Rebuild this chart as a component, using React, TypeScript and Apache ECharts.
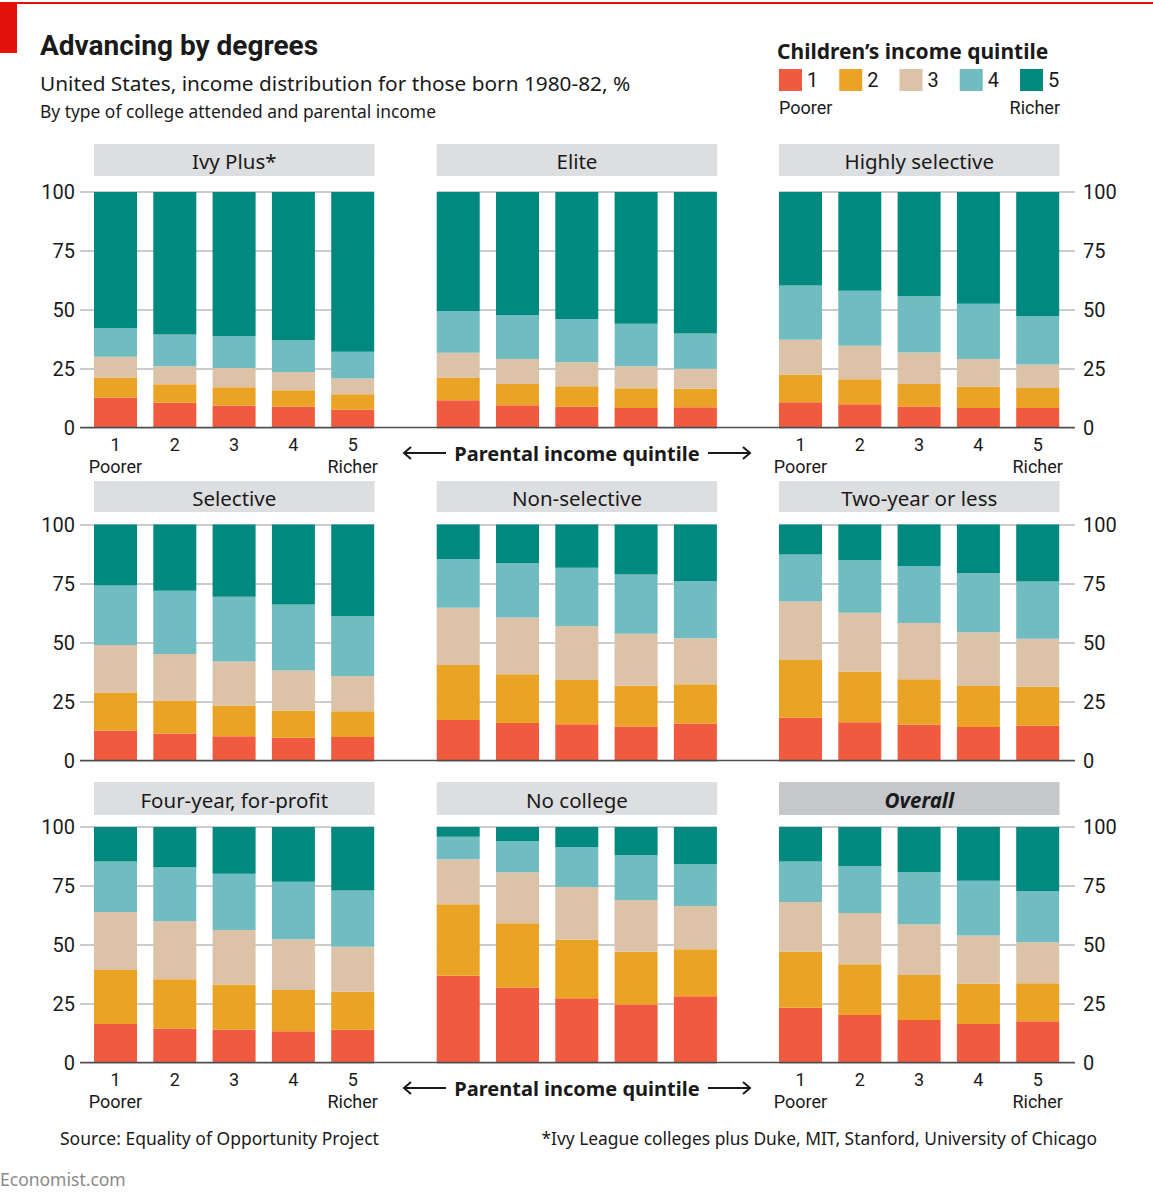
import React, { useEffect, useRef } from "react";
import * as echarts from "echarts";

// ---------- data ----------
const parentalQuintiles = [1, 2, 3, 4, 5];
const parentalTickLabels = ["1\nPoorer", "2", "3", "4", "5\nRicher"];
const childQuintiles = ["1", "2", "3", "4", "5"];
const panelTitles = [
  "Ivy Plus*",
  "Elite",
  "Highly selective",
  "Selective",
  "Non-selective",
  "Two-year or less",
  "Four-year, for-profit",
  "No college",
  "Overall",
];

// rows: children's income quintile 1..5; columns: parental income quintile 1..5 (%)
const ivyPlus = [
  [12.7, 10.5, 9.3, 8.8, 7.6],
  [8.5, 7.9, 7.8, 7.0, 6.5],
  [8.8, 7.6, 8.2, 7.8, 6.7],
  [12.3, 13.5, 13.6, 13.5, 11.4],
  [57.7, 60.5, 61.1, 62.9, 67.8],
];
const elite = [
  [11.6, 9.5, 8.8, 8.3, 8.6],
  [9.6, 9.0, 8.7, 8.4, 7.9],
  [10.5, 10.6, 10.2, 9.3, 8.4],
  [17.7, 18.7, 18.4, 18.1, 15.0],
  [50.6, 52.2, 53.9, 55.9, 60.1],
];
const highlySelective = [
  [10.7, 9.9, 8.9, 8.3, 8.3],
  [11.8, 10.6, 9.6, 9.0, 8.5],
  [14.8, 14.2, 13.3, 11.8, 9.9],
  [23.0, 23.4, 23.9, 23.5, 20.5],
  [39.7, 41.9, 44.3, 47.4, 52.8],
];
const selective = [
  [12.7, 11.4, 10.3, 9.6, 10.0],
  [16.1, 14.0, 13.0, 11.6, 10.9],
  [20.1, 19.7, 18.6, 16.9, 14.9],
  [25.3, 26.8, 27.5, 28.0, 25.3],
  [25.8, 28.1, 30.6, 33.9, 38.9],
];
const nonSelective = [
  [17.2, 15.9, 15.4, 14.4, 15.7],
  [23.3, 20.6, 18.7, 17.3, 16.6],
  [24.2, 24.1, 22.9, 22.0, 19.5],
  [20.6, 23.0, 24.7, 25.1, 24.2],
  [14.7, 16.4, 18.3, 21.2, 24.0],
];
const twoYearOrLess = [
  [18.1, 16.2, 15.1, 14.2, 14.7],
  [24.5, 21.5, 19.3, 17.4, 16.5],
  [24.8, 24.9, 23.9, 22.7, 20.4],
  [19.9, 22.2, 24.1, 25.0, 24.3],
  [12.7, 15.2, 17.6, 20.7, 24.1],
];
const fourYearForProfit = [
  [16.4, 14.4, 14.0, 13.3, 13.9],
  [22.9, 21.0, 19.1, 17.5, 16.1],
  [24.6, 24.6, 23.2, 21.5, 19.1],
  [21.4, 22.9, 23.9, 24.4, 23.9],
  [14.7, 17.1, 19.8, 23.3, 27.0],
];
const noCollege = [
  [36.8, 31.8, 27.3, 24.6, 28.1],
  [30.4, 27.3, 24.8, 22.4, 20.0],
  [19.1, 21.7, 22.4, 22.0, 18.4],
  [9.6, 13.3, 16.9, 19.0, 17.7],
  [4.1, 5.9, 8.6, 12.0, 15.8],
];
const overall = [
  [23.2, 20.2, 18.0, 16.4, 17.5],
  [23.9, 21.5, 19.2, 17.1, 16.2],
  [21.1, 21.8, 21.5, 20.4, 17.4],
  [17.2, 19.8, 22.1, 23.3, 21.6],
  [14.6, 16.7, 19.2, 22.8, 27.3],
];
const panelData = [
  ivyPlus,
  elite,
  highlySelective,
  selective,
  nonSelective,
  twoYearOrLess,
  fourYearForProfit,
  noCollege,
  overall,
];

// ---------- style / layout ----------
const COLORS = ["#f05b3f", "#eba325", "#dcc2a7", "#71bcc0", "#00897e"];
const FONT = "'Noto Sans', Roboto, sans-serif";
const FONT_R = "Roboto, 'Noto Sans', sans-serif";
const TEXT = "#1a1a1a";
const GRID_COLOR = "#b9bbbd";

const ROW_TOP = [192, 524.5, 827];
const ROW_H = [235.5, 236, 235.5];
const HEAD_Y = [144, 481, 782];
const HEAD_H = [32, 31, 33];
const COL_BAR_LEFT = [94, 436.7, 779];
const GRID_LEFT = [80, 436.7, 779];
const GRID_RIGHT = [374.2, 716.9, 1075];
const BAR_W = 43;
const STEP = 59.3;
const HEAD_W = 280.5;

function buildOption() {
  const grids: any[] = [];
  const xAxes: any[] = [];
  const yAxes: any[] = [];
  const series: any[] = [];
  const graphics: any[] = [];

  for (let i = 0; i < 9; i++) {
    const r = Math.floor(i / 3);
    const c = i % 3;
    const firstCenter = COL_BAR_LEFT[c] + BAR_W / 2;
    const gl = GRID_LEFT[c];
    const gr = GRID_RIGHT[c];
    grids.push({ left: gl, top: ROW_TOP[r], width: gr - gl, height: ROW_H[r] });
    const showX = r !== 1 && c !== 1;
    xAxes.push({
      type: "value",
      gridIndex: i,
      min: 1 - (firstCenter - gl) / STEP,
      max: 1 + (gr - firstCenter) / STEP,
      axisLine: { show: false },
      axisTick: { show: false },
      splitLine: { show: false },
      axisLabel: {
        show: showX,
        customValues: parentalQuintiles,
        formatter: (v: number) => {
          const k = parentalQuintiles.indexOf(Math.round(v));
          return k >= 0 ? parentalTickLabels[k] : "";
        },
        fontSize: 18,
        lineHeight: 22,
        color: TEXT,
        fontFamily: FONT_R,
        margin: 6,
      },
    });
    yAxes.push({
      type: "value",
      gridIndex: i,
      min: 0,
      max: 100,
      interval: 25,
      position: c === 2 ? "right" : "left",
      axisLine: { show: false },
      axisTick: { show: false },
      splitLine: { show: true, lineStyle: { color: GRID_COLOR, width: 1.5 } },
      axisLabel: {
        show: c !== 1,
        fontSize: 20,
        color: TEXT,
        fontFamily: FONT_R,
        margin: c === 2 ? 8 : 5,
      },
    });
    const d = panelData[i];
    for (let k = 0; k < 5; k++) {
      series.push({
        type: "bar",
        name: childQuintiles[k],
        xAxisIndex: i,
        yAxisIndex: i,
        stack: "panel" + i,
        barWidth: BAR_W,
        silent: true,
        itemStyle: { color: COLORS[k] },
        // value first so that the stack runs along the vertical (value) axis
        encode: { x: 1, y: 0 },
        data: parentalQuintiles.map((p, j) => [d[k][j], p]),
      });
    }
    // panel header
    graphics.push({
      type: "rect",
      shape: { x: COL_BAR_LEFT[c], y: HEAD_Y[r], width: HEAD_W, height: HEAD_H[r] },
      style: { fill: i === 8 ? "#c6c7c9" : "#dddee0" },
    });
    graphics.push({
      type: "text",
      x: COL_BAR_LEFT[c] + HEAD_W / 2,
      y: HEAD_Y[r] + HEAD_H[r] / 2 + 1,
      style: {
        text: panelTitles[i],
        fontSize: 20.5,
        fontFamily: FONT,
        fontWeight: i === 8 ? "bold" : "normal",
        fontStyle: i === 8 ? "italic" : "normal",
        fill: TEXT,
        align: "center",
        verticalAlign: "middle",
      },
    });
  }

  // baselines across each row
  for (let r = 0; r < 3; r++) {
    const y = ROW_TOP[r] + ROW_H[r];
    graphics.push({
      type: "line",
      z: 100,
      shape: { x1: 80, y1: y, x2: 1075, y2: y },
      style: { stroke: "#4d4d4d", lineWidth: 1.6 },
    });
  }

  // "Parental income quintile" with arrows
  [453, 1088].forEach((yc) => {
    graphics.push({
      type: "text",
      x: 577,
      y: yc,
      style: {
        text: "Parental income quintile",
        fontSize: 20,
        fontWeight: "bold",
        fontFamily: FONT,
        fill: TEXT,
        align: "center",
        verticalAlign: "middle",
      },
    });
    graphics.push({
      type: "line",
      shape: { x1: 404, y1: yc, x2: 446, y2: yc },
      style: { stroke: TEXT, lineWidth: 2 },
    });
    graphics.push({
      type: "polyline",
      shape: { points: [[411, yc - 6], [404, yc], [411, yc + 6]] },
      style: { stroke: TEXT, lineWidth: 2, fill: null },
    });
    graphics.push({
      type: "line",
      shape: { x1: 708, y1: yc, x2: 750, y2: yc },
      style: { stroke: TEXT, lineWidth: 2 },
    });
    graphics.push({
      type: "polyline",
      shape: { points: [[743, yc - 6], [750, yc], [743, yc + 6]] },
      style: { stroke: TEXT, lineWidth: 2, fill: null },
    });
  });

  // header
  graphics.push(
    {
      type: "rect",
      shape: { x: 0, y: 2, width: 1153, height: 2 },
      style: { fill: "#e3120b" },
    },
    {
      type: "rect",
      shape: { x: 0, y: 2, width: 17, height: 51 },
      style: { fill: "#e3120b" },
    },
    {
      type: "text",
      x: 40,
      y: 45,
      style: {
        text: "Advancing by degrees",
        fontSize: 28,
        fontWeight: "bold",
        fontFamily: FONT_R,
        fill: TEXT,
        verticalAlign: "middle",
      },
    },
    {
      type: "text",
      x: 40,
      y: 83,
      style: {
        text: "United States, income distribution for those born 1980-82, %",
        fontSize: 20.8,
        fontFamily: FONT,
        fill: TEXT,
        verticalAlign: "middle",
      },
    },
    {
      type: "text",
      x: 40,
      y: 111,
      style: {
        text: "By type of college attended and parental income",
        fontSize: 17.4,
        fontFamily: FONT,
        fill: TEXT,
        verticalAlign: "middle",
      },
    },
    {
      type: "text",
      x: 777,
      y: 51,
      style: {
        text: "Children\u2019s income quintile",
        fontSize: 21,
        fontWeight: "bold",
        fontFamily: FONT,
        fill: TEXT,
        verticalAlign: "middle",
      },
    },
    {
      type: "text",
      x: 779,
      y: 107,
      style: { text: "Poorer", fontSize: 18, fontFamily: FONT_R, fill: TEXT, verticalAlign: "middle" },
    },
    {
      type: "text",
      x: 1060,
      y: 107,
      style: {
        text: "Richer",
        fontSize: 18,
        fontFamily: FONT_R,
        fill: TEXT,
        align: "right",
        verticalAlign: "middle",
      },
    },
    // footer
    {
      type: "text",
      x: 60,
      y: 1138,
      style: {
        text: "Source: Equality of Opportunity Project",
        fontSize: 17.5,
        fontFamily: FONT,
        fill: TEXT,
        verticalAlign: "middle",
      },
    },
    {
      type: "text",
      x: 1097,
      y: 1138,
      style: {
        text: "*Ivy League colleges plus Duke, MIT, Stanford, University of Chicago",
        fontSize: 17.4,
        fontFamily: FONT,
        fill: TEXT,
        align: "right",
        verticalAlign: "middle",
      },
    },
    {
      type: "text",
      x: 0,
      y: 1179,
      style: {
        text: "Economist.com",
        fontSize: 17.5,
        fontFamily: FONT,
        fill: "#8a8a8a",
        verticalAlign: "middle",
      },
    }
  );

  return {
    animation: false,
    backgroundColor: "#ffffff",
    textStyle: { fontFamily: FONT },
    legend: {
      data: childQuintiles,
      left: 779,
      top: 69,
      itemWidth: 23,
      itemHeight: 22,
      itemGap: 21,
      icon: "rect",
      selectedMode: false,
      padding: 0,
      textStyle: { fontSize: 20, color: TEXT, fontFamily: FONT_R },
    },
    grid: grids,
    xAxis: xAxes,
    yAxis: yAxes,
    series,
    graphic: graphics,
  };
}

export default function App() {
  const ref = useRef<HTMLDivElement>(null);
  useEffect(() => {
    if (!ref.current) return;
    const chart = echarts.init(ref.current, undefined, { renderer: "svg" });
    chart.setOption(buildOption() as any);
    return () => chart.dispose();
  }, []);
  return (
    <div
      ref={ref}
      style={{ position: "absolute", left: 0, top: 0, width: 1153, height: 1200, background: "#fff" }}
    />
  );
}
